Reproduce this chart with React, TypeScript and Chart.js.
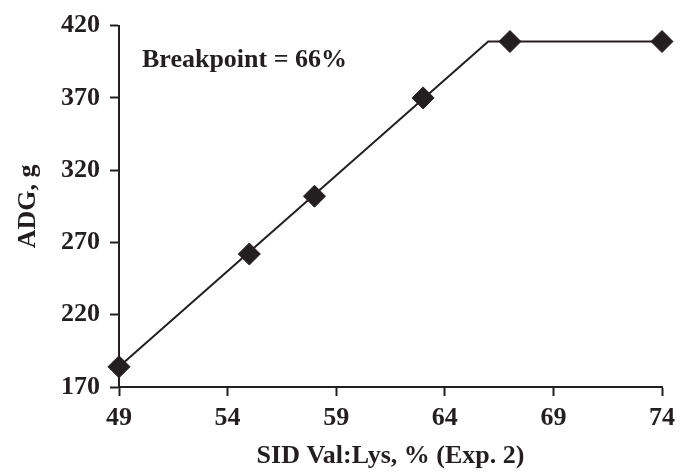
import React, { useEffect, useRef } from "react";
import { Chart, registerables } from "chart.js";

Chart.register(...registerables);

const xTicks = [49, 54, 59, 64, 69, 74];
const yTicks = [170, 220, 270, 320, 370, 420];
const obsX = [49, 55, 58, 63, 67, 74];
const obsY = [184, 262, 302, 370, 409, 409];
const fitX = [49, 66, 74];
const fitY = [184, 409, 409];
const annotation = "Breakpoint = 66%";
const xTitle = "SID Val:Lys, % (Exp. 2)";
const yTitle = "ADG, g";

const INK = "#231f20";
const FONT = "'Liberation Serif', 'Times New Roman', serif";
const FS = 26;

export default function App() {
  const ref = useRef<HTMLCanvasElement | null>(null);
  useEffect(() => {
    document.body.style.margin = "0";
    const ctx = ref.current!;
    const annoPlugin = {
      id: "anno",
      afterDraw(chart: any) {
        const c = chart.ctx;
        const a = chart.chartArea;
        c.save();
        c.fillStyle = INK;
        c.font = `bold ${FS}px ${FONT}`;
        c.textAlign = "left";
        c.textBaseline = "alphabetic";
        c.fillText(annotation, a.left + 23, a.top + 41);
        c.restore();
      },
    };
    const chart = new Chart(ctx, {
      type: "scatter",
      data: {
        datasets: [
          {
            type: "line",
            data: fitX.map((x, i) => ({ x, y: fitY[i] })),
            borderColor: INK,
            borderWidth: 2,
            pointRadius: 0,
            fill: false,
            tension: 0,
            clip: false,
          } as any,
          {
            data: obsX.map((x, i) => ({ x, y: obsY[i] })),
            pointStyle: "rectRot",
            pointRadius: 11,
            pointHoverRadius: 11,
            backgroundColor: INK,
            borderColor: INK,
            borderWidth: 1,
            clip: false,
          },
        ],
      },
      options: {
        animation: false,
        responsive: false,
        maintainAspectRatio: false,
        layout: { padding: { left: 0, top: 24, right: 29, bottom: 0 } },
        plugins: { legend: { display: false }, tooltip: { enabled: false } },
        scales: {
          x: {
            type: "linear",
            min: xTicks[0],
            max: xTicks[xTicks.length - 1],
            afterBuildTicks: (s: any) => {
              s.ticks = xTicks.map((v) => ({ value: v }));
            },
            afterFit: (s: any) => {
              s.height = 87;
            },
            grid: {
              drawOnChartArea: false,
              drawTicks: true,
              tickLength: 9,
              tickWidth: 2,
              tickColor: INK,
            },
            border: { display: true, color: INK, width: 2 },
            ticks: {
              color: INK,
              padding: 7,
              maxRotation: 0,
              font: { family: FONT, size: FS, weight: "bold" },
            },
            title: {
              display: true,
              text: xTitle,
              color: INK,
              padding: { top: 0, bottom: 2 },
              font: { family: FONT, size: FS, weight: "bold" },
            },
          },
          y: {
            type: "linear",
            min: yTicks[0],
            max: yTicks[yTicks.length - 1],
            afterBuildTicks: (s: any) => {
              s.ticks = yTicks.map((v) => ({ value: v }));
            },
            afterFit: (s: any) => {
              s.width = 119;
            },
            grid: {
              drawOnChartArea: false,
              drawTicks: true,
              tickLength: 9,
              tickWidth: 2,
              tickColor: INK,
            },
            border: { display: true, color: INK, width: 2 },
            ticks: {
              color: INK,
              padding: 10,
              font: { family: FONT, size: FS, weight: "bold" },
            },
            title: {
              display: true,
              text: yTitle,
              color: INK,
              padding: { top: 13, bottom: 0 },
              font: { family: FONT, size: FS, weight: "bold" },
            },
          },
        },
      },
      plugins: [annoPlugin],
    } as any);
    return () => chart.destroy();
  }, []);
  return (
    <div style={{ position: "fixed", left: 0, top: 0, width: 691, height: 474, background: "#fff" }}>
      <canvas ref={ref} width={691} height={474} style={{ width: 691, height: 474 }} />
    </div>
  );
}
